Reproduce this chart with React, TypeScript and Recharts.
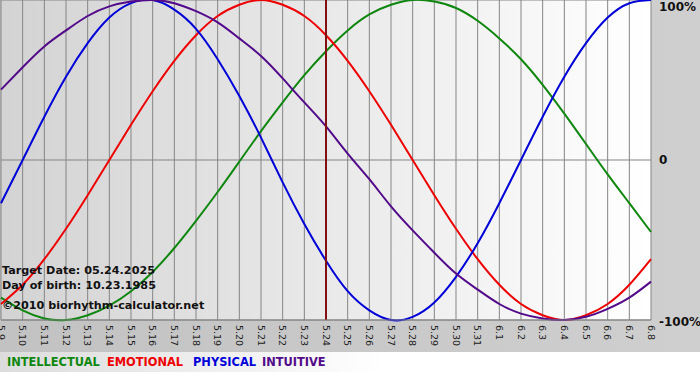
import React from 'react';
import { LineChart, Line, XAxis, YAxis, CartesianGrid, ReferenceLine } from 'recharts';

const days = [
  '5.9', '5.10', '5.11', '5.12', '5.13', '5.14', '5.15', '5.16', '5.17', '5.18', '5.19',
  '5.20', '5.21', '5.22', '5.23', '5.24', '5.25', '5.26', '5.27', '5.28', '5.29', '5.30', '5.31',
  '6.1', '6.2', '6.3', '6.4', '6.5', '6.6', '6.7', '6.8',
];

const intellectual = [-86, -94, -99, -100, -97, -91, -82, -70, -55, -38, -20, -1, 18, 36, 53, 68, 81, 91, 97, 100, 99, 95, 87, 76, 63, 47, 29, 10, -9, -27, -45];
const emotional = [-90, -78, -62, -43, -22, 0, 22, 43, 62, 78, 90, 97, 100, 97, 90, 78, 62, 43, 22, 0, -22, -43, -62, -78, -90, -97, -100, -97, -90, -78, -62];
const physical = [-27, 0, 27, 52, 73, 89, 98, 100, 94, 82, 63, 40, 14, -14, -40, -63, -82, -94, -100, -98, -89, -73, -52, -27, 0, 27, 52, 73, 89, 98, 100];
const intuitive = [44, 58, 71, 81, 90, 96, 99, 100, 98, 93, 86, 76, 65, 51, 36, 21, 4, -12, -29, -44, -58, -71, -81, -90, -96, -99, -100, -98, -93, -86, -76];

const targetDay = '5.24';
const yTicks = [-100, 0, 100];
const infoLines = ['Target Date: 05.24.2025', 'Day of birth: 10.23.1985', '©2010 biorhythm-calculator.net'];

const series = [
  { key: 'intellectual', name: 'INTELLECTUAL', color: '#0f870f', values: intellectual },
  { key: 'emotional', name: 'EMOTIONAL', color: '#ee0000', values: emotional },
  { key: 'physical', name: 'PHYSICAL', color: '#0000d8', values: physical },
  { key: 'intuitive', name: 'INTUITIVE', color: '#520a8a', values: intuitive },
];

const legendX = [7, 107, 193, 262];

const data = days.map((d, i) => {
  const row: Record<string, any> = { day: d };
  series.forEach((s) => {
    row[s.key] = s.values[i];
  });
  return row;
});

const FONT = '"DejaVu Sans", Verdana, sans-serif';

const XTick = (props: any) => {
  const { x, y, payload } = props;
  return (
    <text
      x={x}
      y={y}
      transform={`rotate(90 ${x} ${y})`}
      dy="0.36em"
      textAnchor="start"
      fontSize={9.5}
      fontFamily={FONT}
      fill="#1a1a1a"
    >
      {payload.value}
    </text>
  );
};

const YTick = (props: any) => {
  const { x, y, payload } = props;
  const v = payload.value;
  const label = v === 0 ? '0' : `${v}%`;
  const yy = v === 100 ? y - 2 : v === -100 ? y + 2 : y;
  return (
    <text x={x} y={yy} dy="0.36em" textAnchor="start" fontSize={12} fontWeight="bold" fontFamily={FONT} fill="#111">
      {label}
    </text>
  );
};

export default function App() {
  return (
    <div
      style={{
        position: 'absolute',
        left: 0,
        top: 0,
        width: 700,
        height: 380,
        background: 'linear-gradient(to right, #c2c2c2, #cfcfcf)',
        overflow: 'hidden',
      }}
    >
      <div
        style={{
          position: 'absolute',
          left: 0,
          top: 352,
          width: 700,
          height: 20,
          background: 'linear-gradient(to right, #dcdcdc, #ffffff 55%, #ffffff)',
        }}
      />
      <div style={{ position: 'absolute', left: 0, top: 372, width: 700, height: 8, background: '#ffffff' }} />
      <div style={{ position: 'absolute', left: 0, top: 0 }}>
        <LineChart width={700} height={380} data={data} margin={{ top: 0, right: 0, bottom: 0, left: 1 }}>
          <defs>
            <linearGradient id="plotBg" x1="0" y1="0" x2="1" y2="0">
              <stop offset="0" stopColor="#d3d3d3" />
              <stop offset="1" stopColor="#ffffff" />
            </linearGradient>
          </defs>
          <CartesianGrid
            fill="url(#plotBg)"
            fillOpacity={1}
            stroke="#858585"
            strokeWidth={1}
            horizontal={true}
            vertical={true}
          />
          <XAxis
            dataKey="day"
            type="category"
            interval={0}
            height={60}
            axisLine={{ stroke: '#858585' }}
            tickLine={false}
            tickSize={0}
            tickMargin={5}
            tick={<XTick />}
          />
          <YAxis
            orientation="right"
            domain={[-100, 100]}
            ticks={yTicks}
            width={49}
            axisLine={false}
            tickLine={false}
            tickSize={0}
            tickMargin={8}
            tick={<YTick />}
          />
          {series.map((s) => (
            <Line
              key={s.key}
              type="natural"
              dataKey={s.key}
              name={s.name}
              stroke={s.color}
              strokeWidth={2}
              dot={false}
              activeDot={false}
              isAnimationActive={false}
            />
          ))}
          <ReferenceLine x={targetDay} stroke="#821010" strokeWidth={2} />
        </LineChart>
      </div>
      {infoLines.map((t, i) => (
        <div
          key={t}
          style={{
            position: 'absolute',
            left: 2,
            top: 264 + i * 15 + (i === 2 ? 5 : 0),
            fontFamily: FONT,
            fontWeight: 'bold',
            fontSize: 11.2,
            color: '#111',
            whiteSpace: 'nowrap',
            lineHeight: '14px',
          }}
        >
          {t}
        </div>
      ))}
      {series.map((s, i) => (
        <div
          key={s.key}
          style={{
            position: 'absolute',
            left: legendX[i],
            top: 355,
            fontFamily: FONT,
            fontWeight: 'bold',
            fontSize: 11.4,
            color: s.color,
            whiteSpace: 'nowrap',
            lineHeight: '14px',
          }}
        >
          {s.name}
        </div>
      ))}
    </div>
  );
}
